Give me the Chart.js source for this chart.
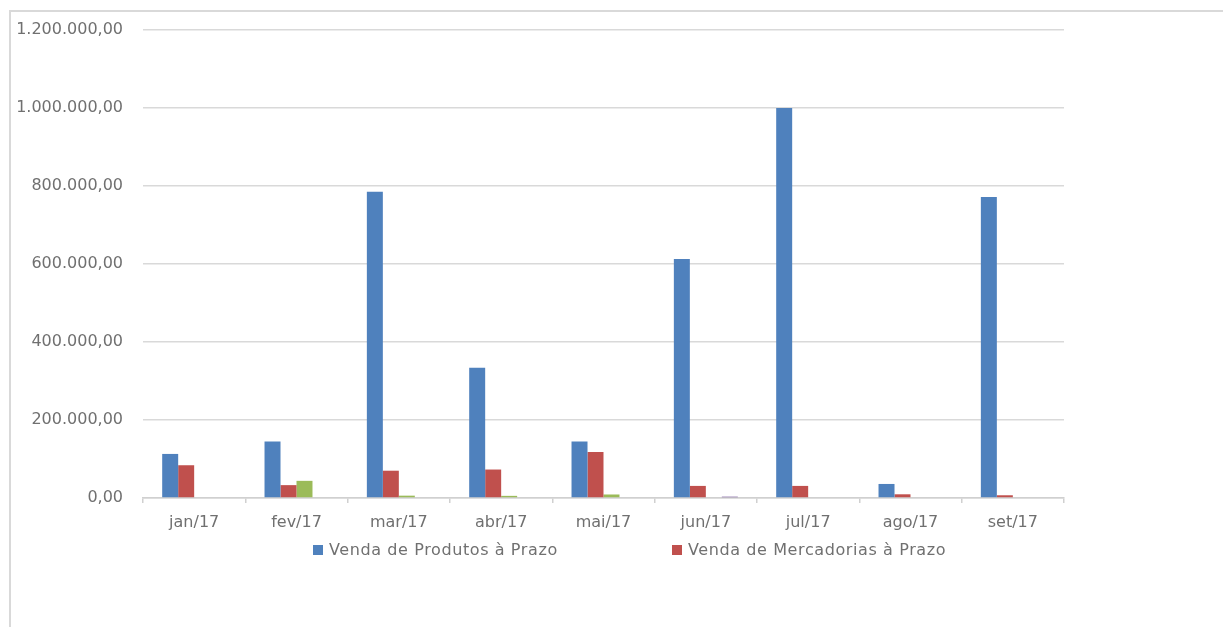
<!DOCTYPE html>
<html>
<head>
<meta charset="utf-8">
<script src="https://cdn.jsdelivr.net/npm/chart.js@4"></script>
<style>
  html, body { margin: 0; padding: 0; background: #fff; }
  #wrap { position: relative; width: 1223px; height: 627px; overflow: hidden; }
  #frame { position: absolute; left: 9px; top: 10px; width: 1300px; height: 700px;
           border-left: 2px solid #d9d9d9; border-top: 2px solid #d9d9d9; pointer-events: none; }
  canvas { position: absolute; left: 0; top: 0; }
  #legend { position: absolute; left: 313px; top: 540px; display: flex;
            font-family: "DejaVu Sans", sans-serif; font-size: 16px; letter-spacing: 0.6px; color: #707070; }
  .item { width: 359px; display: flex; align-items: center; white-space: nowrap; }
  .sw { width: 10px; height: 10px; margin-right: 6px; flex: none; }
</style>
</head>
<body>
<div id="wrap">
  <div id="frame"></div>
  <canvas id="c" width="1223" height="627"></canvas>
  <div id="legend"></div>
</div>
<script>
const categories = ["jan/17", "fev/17", "mar/17", "abr/17", "mai/17", "jun/17", "jul/17", "ago/17", "set/17"];
const seriesNames = ["Venda de Produtos à Prazo", "Venda de Mercadorias à Prazo", "Série 3", "Série 4"];
const produtosPrazo   = [113000, 145000, 785000, 334000, 145000, 613000, 1000000, 36000, 772000];
const mercadoriasPrazo = [84000, 33000, 70000, 73000, 118000, 31000, 31000, 9500, 7000];
const serie3 = [null, 44000, 6000, 5500, 9000, null, null, null, null];
const serie4 = [null, null, null, null, null, 3500, null, null, null];
const colors = ["#4F81BD", "#C0504D", "#9BBB59", "#8064A2"];
const yTicksMin = 0, yTicksMax = 1200000, yTickStep = 200000;

function fmt(v) {
  const s = Math.round(v).toString().replace(/\B(?=(\d{3})+(?!\d))/g, ".");
  return s + ",00";
}

const values = [produtosPrazo, mercadoriasPrazo, serie3, serie4];
const datasets = values.map((d, i) => ({
  label: seriesNames[i],
  data: d,
  backgroundColor: colors[i],
  borderWidth: 0,
  categoryPercentage: 0.625,
  barPercentage: 1.0
}));

const font = { family: "'DejaVu Sans'", size: 16 };

const chart = new Chart(document.getElementById("c"), {
  type: "bar",
  data: { labels: categories, datasets },
  options: {
    responsive: false,
    animation: false,
    layout: { padding: { left: 0, right: 159, top: 30, bottom: 0 } },
    plugins: { legend: { display: false }, tooltip: { enabled: false } },
    scales: {
      x: {
        grid: { offset: true, drawOnChartArea: false, drawTicks: true, tickLength: 5, color: "#d0d0d0", lineWidth: 1.5 },
        border: { display: true, color: "#d0d0d0", width: 1.5 },
        ticks: { color: "#707070", font, padding: 10, maxRotation: 0 },
        afterFit: s => { s.height = 129; }
      },
      y: {
        min: yTicksMin, max: yTicksMax,
        grid: { drawTicks: false, color: "#d9d9d9", lineWidth: 1.5 },
        border: { display: false },
        ticks: { stepSize: yTickStep, color: "#707070", font, padding: 20, callback: v => fmt(v) },
        afterFit: s => { s.width = 143; }
      }
    }
  }
});

const legend = document.getElementById("legend");
chart.data.datasets.slice(0, 2).forEach(ds => {
  const it = document.createElement("div");
  it.className = "item";
  const sw = document.createElement("span");
  sw.className = "sw";
  sw.style.background = ds.backgroundColor;
  const t = document.createElement("span");
  t.textContent = ds.label;
  it.appendChild(sw); it.appendChild(t);
  legend.appendChild(it);
});
</script>
</body>
</html>
